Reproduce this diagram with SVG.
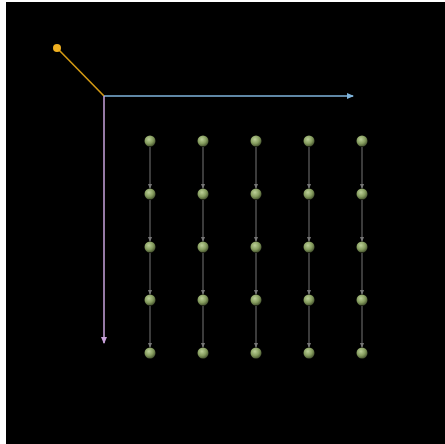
<svg xmlns="http://www.w3.org/2000/svg" width="445" height="444" viewBox="0 0 445 444">
<defs>
<radialGradient id="ball" cx="0.4" cy="0.35" r="0.65">
<stop offset="0" stop-color="#bcd098"/>
<stop offset="0.6" stop-color="#859c5e"/>
<stop offset="1" stop-color="#4a5832"/>
</radialGradient>
<marker id="ag" markerWidth="5" markerHeight="4" refX="4" refY="2" orient="auto" markerUnits="userSpaceOnUse">
<path d="M0,0 L5,2 L0,4 Z" fill="#777"/>
</marker>
<marker id="ab" markerWidth="7" markerHeight="6" refX="6" refY="3" orient="auto" markerUnits="userSpaceOnUse">
<path d="M0,0 L7,3 L0,6 Z" fill="#7fb4dc"/>
</marker>
<marker id="ap" markerWidth="7" markerHeight="6" refX="6" refY="3" orient="auto" markerUnits="userSpaceOnUse">
<path d="M0,0 L7,3 L0,6 Z" fill="#c9a3dc"/>
</marker>
</defs>
<style>
.b{fill:url(#ball)}
.e{stroke:#777;stroke-width:1;fill:none;marker-end:url(#ag)}
</style>
<rect x="6" y="2" width="439" height="442" fill="#000"/>
<g id="axes">
<line x1="104" y1="96" x2="57" y2="48" stroke="#d49a14" stroke-width="1.6"/>
<circle cx="57" cy="48" r="4" fill="#f0b020"/>
<line x1="104" y1="96" x2="353" y2="96" stroke="#7fb4dc" stroke-width="1.5" marker-end="url(#ab)"/>
<line x1="104" y1="96" x2="104" y2="343" stroke="#c9a3dc" stroke-width="1.5" marker-end="url(#ap)"/>
</g>
<g id="connectors">
<line class="e" x1="150" y1="147" x2="150" y2="188"/><line class="e" x1="150" y1="200" x2="150" y2="241"/><line class="e" x1="150" y1="253" x2="150" y2="294"/><line class="e" x1="150" y1="306" x2="150" y2="347"/>
<line class="e" x1="203" y1="147" x2="203" y2="188"/><line class="e" x1="203" y1="200" x2="203" y2="241"/><line class="e" x1="203" y1="253" x2="203" y2="294"/><line class="e" x1="203" y1="306" x2="203" y2="347"/>
<line class="e" x1="256" y1="147" x2="256" y2="188"/><line class="e" x1="256" y1="200" x2="256" y2="241"/><line class="e" x1="256" y1="253" x2="256" y2="294"/><line class="e" x1="256" y1="306" x2="256" y2="347"/>
<line class="e" x1="309" y1="147" x2="309" y2="188"/><line class="e" x1="309" y1="200" x2="309" y2="241"/><line class="e" x1="309" y1="253" x2="309" y2="294"/><line class="e" x1="309" y1="306" x2="309" y2="347"/>
<line class="e" x1="362" y1="147" x2="362" y2="188"/><line class="e" x1="362" y1="200" x2="362" y2="241"/><line class="e" x1="362" y1="253" x2="362" y2="294"/><line class="e" x1="362" y1="306" x2="362" y2="347"/>
</g>
<g id="n00"><circle class="b" cx="150" cy="141" r="5.5"/></g>
<g id="n01"><circle class="b" cx="203" cy="141" r="5.5"/></g>
<g id="n02"><circle class="b" cx="256" cy="141" r="5.5"/></g>
<g id="n03"><circle class="b" cx="309" cy="141" r="5.5"/></g>
<g id="n04"><circle class="b" cx="362" cy="141" r="5.5"/></g>
<g id="n10"><circle class="b" cx="150" cy="194" r="5.5"/></g>
<g id="n11"><circle class="b" cx="203" cy="194" r="5.5"/></g>
<g id="n12"><circle class="b" cx="256" cy="194" r="5.5"/></g>
<g id="n13"><circle class="b" cx="309" cy="194" r="5.5"/></g>
<g id="n14"><circle class="b" cx="362" cy="194" r="5.5"/></g>
<g id="n20"><circle class="b" cx="150" cy="247" r="5.5"/></g>
<g id="n21"><circle class="b" cx="203" cy="247" r="5.5"/></g>
<g id="n22"><circle class="b" cx="256" cy="247" r="5.5"/></g>
<g id="n23"><circle class="b" cx="309" cy="247" r="5.5"/></g>
<g id="n24"><circle class="b" cx="362" cy="247" r="5.5"/></g>
<g id="n30"><circle class="b" cx="150" cy="300" r="5.5"/></g>
<g id="n31"><circle class="b" cx="203" cy="300" r="5.5"/></g>
<g id="n32"><circle class="b" cx="256" cy="300" r="5.5"/></g>
<g id="n33"><circle class="b" cx="309" cy="300" r="5.5"/></g>
<g id="n34"><circle class="b" cx="362" cy="300" r="5.5"/></g>
<g id="n40"><circle class="b" cx="150" cy="353" r="5.5"/></g>
<g id="n41"><circle class="b" cx="203" cy="353" r="5.5"/></g>
<g id="n42"><circle class="b" cx="256" cy="353" r="5.5"/></g>
<g id="n43"><circle class="b" cx="309" cy="353" r="5.5"/></g>
<g id="n44"><circle class="b" cx="362" cy="353" r="5.5"/></g>
</svg>
